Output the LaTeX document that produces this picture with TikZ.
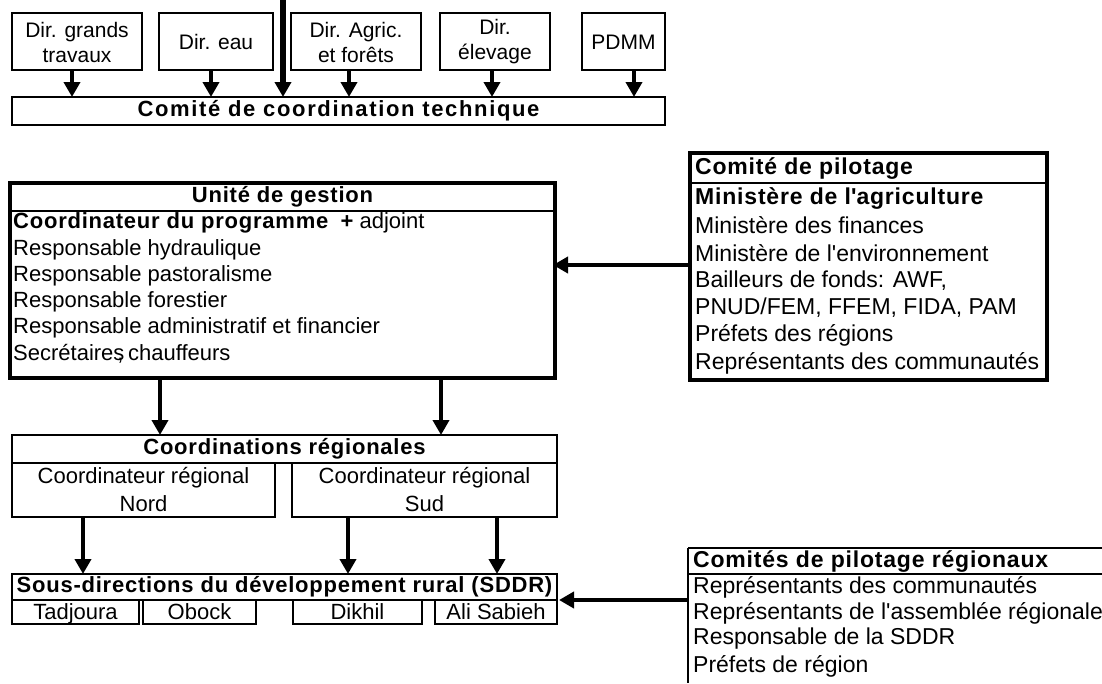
\documentclass[tikz,border=0pt]{standalone}
\usepackage{fontspec}
\setmainfont{Liberation Sans}
\usetikzlibrary{arrows.meta}
\newcommand{\apos}{\textquotesingle}
\begin{document}
\begin{tikzpicture}[x=1pt,y=-1pt,
  thinbox/.style={draw,line width=1.6pt},
  thickbox/.style={draw,line width=4pt},
  txt/.style={inner sep=0pt,font=\fontsize{22}{25}\selectfont,anchor=west},
  rtxt/.style={inner sep=0pt,font=\fontsize{23}{26}\selectfont,anchor=west},
  ttxt/.style={inner sep=0pt,font=\fontsize{21}{25}\selectfont,align=center},
  ctxt/.style={inner sep=0pt,font=\fontsize{22}{28}\selectfont,align=center},
  stxt/.style={inner sep=0pt,font=\fontsize{22}{25}\selectfont,anchor=base},
  btxt/.style={inner sep=0pt,font=\fontsize{22}{25}\selectfont\bfseries\addfontfeature{LetterSpace=3.5}},
  arr/.style={line width=4.5pt,-{Triangle[width=16pt,length=15pt]}},
]
\useasboundingbox (0,0) rectangle (1102,683);
% top boxes
\draw[thinbox] (12,13) rectangle (142,70);
\node[ttxt] (dg) at (77,42) {Dir. grands\\travaux};
\draw[thinbox] (159,13) rectangle (273,70);
\node[ttxt] (de) at (216,42) {Dir. eau};
\draw[thinbox] (291,13) rectangle (421,70);
\node[ttxt] (da) at (356,42) {Dir. Agric.\\et forêts};
\draw[thinbox] (440,13) rectangle (550,70);
\node[ttxt] (dl) at (495,42) {Dir.\\élevage};
\draw[thinbox] (582,13) rectangle (665,70);
\node[ttxt] (pd) at (623.5,42) {PDMM};
\draw[thinbox] (12,97) rectangle (665,125);
\node[btxt,font=\fontsize{22}{25}\selectfont\bfseries\addfontfeature{LetterSpace=7.5}] (cct) at (338.5,111) {Comité de coordination technique};
\coordinate (top) at (283,0);
\draw[arr] (72,70) -- (72,97);
\draw[arr] (211,70) -- (211,97);
\draw[line width=5.5pt,-{Triangle[width=16pt,length=15pt]}] (top) -- (283,97);
\draw[arr] (349,70) -- (349,97);
\draw[arr] (492,70) -- (492,97);
\draw[arr] (634,70) -- (634,97);
% Unite de gestion
\draw[thickbox] (10,183) rectangle (555,378);
\draw[line width=2pt] (10,211) -- (555,211);
\node[btxt] (ug) at (282.5,197) {Unité de gestion};
\node[txt] (u1) at (13,223) {{\bfseries\addfontfeature{LetterSpace=3.5}Coordinateur du programme}\ \ \textbf{+} adjoint};
\node[txt] (u2) at (13,250) {Responsable hydraulique};
\node[txt] (u3) at (13,276) {Responsable pastoralisme};
\node[txt] (u4) at (13,302) {Responsable forestier};
\node[txt] (u5) at (13,328) {Responsable administratif et financier};
\node[txt] (u6) at (13,354) {Secrétaires\llap{,\kern1pt}\,chauffeurs};
% Comite de pilotage
\draw[thickbox] (690,153) rectangle (1047,380);
\draw[line width=2pt] (690,183) -- (1047,183);
\node[btxt,font=\fontsize{23}{26}\selectfont\bfseries\addfontfeature{LetterSpace=3.5},anchor=west] (cp) at (695,168) {Comité de pilotage};
\node[rtxt] (p1) at (695,198) {{\bfseries\addfontfeature{LetterSpace=3.5}Ministère de l\apos agriculture}};
\node[rtxt] (p2) at (695,225.5) {Ministère des finances};
\node[rtxt] (p3) at (695,253) {Ministère de l\apos environnement};
\node[rtxt] (p4) at (695,280.5) {Bailleurs de fonds: AWF,};
\node[rtxt] (p5) at (695,308) {PNUD/FEM, FFEM, FIDA, PAM};
\node[rtxt] (p6) at (695,335.5) {Préfets des régions};
\node[rtxt] (p7) at (695,363) {Représentants des communautés};
\draw[arr] (690,265) -- (553,265);
% Coordinations regionales
\draw[thinbox] (12,435) rectangle (557,463);
\node[btxt] (cr) at (284.5,449) {Coordinations régionales};
\draw[thinbox] (12,463) -- (12,517) -- (275,517) -- (275,463);
\draw[thinbox] (292,463) -- (292,517) -- (557,517) -- (557,463);
\node[ctxt] (crn) at (143.5,489) {Coordinateur régional\\Nord};
\node[ctxt] (crs) at (424.5,489) {Coordinateur régional\\Sud};
\draw[arr] (160,378) -- (160,435);
\draw[arr] (441,378) -- (441,435);
\draw[arr] (83,517) -- (83,574);
\draw[arr] (348,517) -- (348,574);
\draw[arr] (497,517) -- (497,574);
% SDDR
\draw[thinbox] (12,574) rectangle (557,600);
\node[btxt] (sd) at (284.5,587) {Sous-directions du développement rural (SDDR)};
\draw[thinbox] (12,600) rectangle (139,624);
\node[stxt] (t1) at (75.5,619.5) {Tadjoura};
\draw[thinbox] (143,600) rectangle (256,624);
\node[stxt] (t2) at (199.5,619.5) {Obock};
\draw[thinbox] (293,600) rectangle (422,624);
\node[stxt] (t3) at (357.5,619.5) {Dikhil};
\draw[thinbox] (435,600) rectangle (557,624);
\node[stxt] (t4) at (496,619.5) {Ali Sabieh};
% Comites regionaux
\draw[line width=2.5pt] (688,548) -- (688,683);
\draw[line width=1.6pt] (688,548) -- (1102,548);
\draw[line width=1.6pt] (688,574) -- (1102,574);
\node[btxt,font=\fontsize{23}{26}\selectfont\bfseries\addfontfeature{LetterSpace=3.5},anchor=west] (rr) at (693,561) {Comités de pilotage régionaux};
\node[rtxt] (r1) at (693,587) {Représentants des communautés};
\node[rtxt] (r2) at (693,613) {Représentants de l\apos assemblée régionale};
\node[rtxt] (r3) at (693,639) {Responsable de la SDDR};
\node[rtxt] (r4) at (693,666) {Préfets de région};
\draw[arr] (688,600) -- (559,600);
\end{tikzpicture}
\end{document}
